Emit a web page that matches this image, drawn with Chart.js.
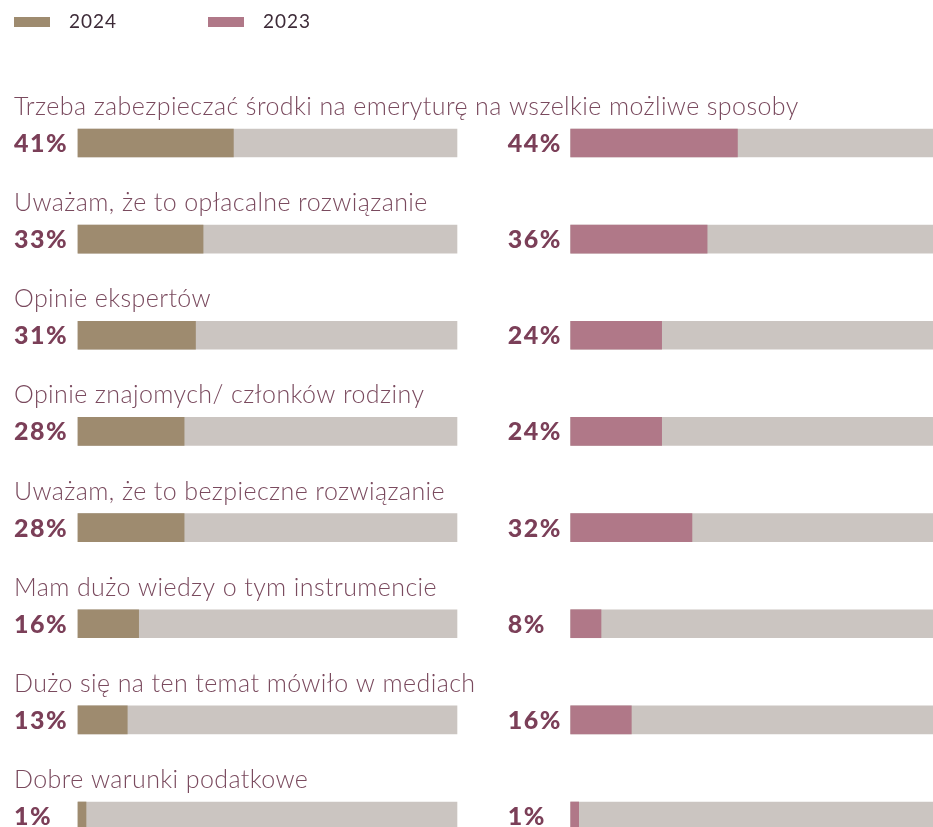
<!DOCTYPE html>
<html>
<head>
<meta charset="utf-8">
<script src="https://cdn.jsdelivr.net/npm/chart.js@4.4.1/dist/chart.umd.min.js"></script>
<style>
  html, body { margin: 0; background: #fff; }
  canvas { display: block; }
</style>
</head>
<body>
<canvas id="reasons" width="933" height="827"></canvas>
<script>
const categories = [
  "Trzeba zabezpieczać środki na emeryturę na wszelkie możliwe sposoby",
  "Uważam, że to opłacalne rozwiązanie",
  "Opinie ekspertów",
  "Opinie znajomych/ członków rodziny",
  "Uważam, że to bezpieczne rozwiązanie",
  "Mam dużo wiedzy o tym instrumencie",
  "Dużo się na ten temat mówiło w mediach",
  "Dobre warunki podatkowe"
];
const seriesNames = ["2024", "2023"];
const values2024 = [41, 33, 31, 28, 28, 16, 13, 1];
const values2023 = [44, 36, 24, 24, 32, 8, 16, 1];

// right panel starts this many units to the right of the left one
const panelShift = 130;

const colors = {
  y2024: "#9e8b6f",
  y2023: "#b07888",
  track: "#cbc5c1",
  label: "#7a4a5e",
  value: "#7b3f58",
  legend: "#3d2b38"
};

const track = categories.map(() => 100);
const trackRight = categories.map(() => [panelShift, panelShift + 100]);
const right2023 = values2023.map(v => [panelShift, panelShift + v]);

const textPlugin = {
  id: "rowText",
  afterDatasetsDraw(chart) {
    const ctx = chart.ctx;
    const x = chart.scales.x;
    const y = chart.scales.y;
    ctx.save();

    // legend
    ctx.font = "19px Lato";
    ctx.letterSpacing = "1px";
    ctx.textBaseline = "middle";
    [[colors.y2024, 14], [colors.y2023, 208]].forEach(([c, lx], i) => {
      ctx.fillStyle = c;
      ctx.fillRect(lx, 17, 36, 10);
      ctx.fillStyle = colors.legend;
      ctx.fillText(seriesNames[i], lx + 55, 22);
    });

    const leftX = x.getPixelForValue(0) - 64;
    const rightX = x.getPixelForValue(panelShift) - 63;
    categories.forEach((cat, i) => {
      const cy = y.getPixelForValue(i);
      ctx.textBaseline = "alphabetic";
      ctx.fillStyle = colors.label;
      ctx.font = "300 25px Lato";
      ctx.letterSpacing = "0.4px";
      ctx.fillText(cat, 14, cy - 28);
      ctx.fillStyle = colors.value;
      ctx.font = "900 25px Lato";
      ctx.letterSpacing = "1.5px";
      ctx.fillText(values2024[i] + "%", leftX, cy + 9);
      ctx.fillText(values2023[i] + "%", rightX, cy + 9);
    });
    ctx.restore();
  }
};

new Chart(document.getElementById("reasons"), {
  type: "bar",
  data: {
    labels: categories,
    datasets: [
      { label: "2024", data: values2024, backgroundColor: colors.y2024, order: 0, minBarLength: 8 },
      { label: "2023", data: right2023, backgroundColor: colors.y2023, order: 0, minBarLength: 8 },
      { label: "tło 2024", data: track, backgroundColor: colors.track, order: 1 },
      { label: "tło 2023", data: trackRight, backgroundColor: colors.track, order: 1 }
    ]
  },
  options: {
    indexAxis: "y",
    responsive: false,
    animation: false,
    devicePixelRatio: 1,
    layout: { padding: { top: 143, bottom: 11, left: 78, right: 0 } },
    datasets: {
      bar: { grouped: false, barThickness: 28, borderWidth: 0, clip: false }
    },
    scales: {
      x: { min: 0, max: 225.6, display: false },
      y: { type: "category", offset: false, display: false }
    },
    plugins: {
      legend: { display: false },
      tooltip: { enabled: false }
    }
  },
  plugins: [textPlugin]
});
</script>
</body>
</html>
